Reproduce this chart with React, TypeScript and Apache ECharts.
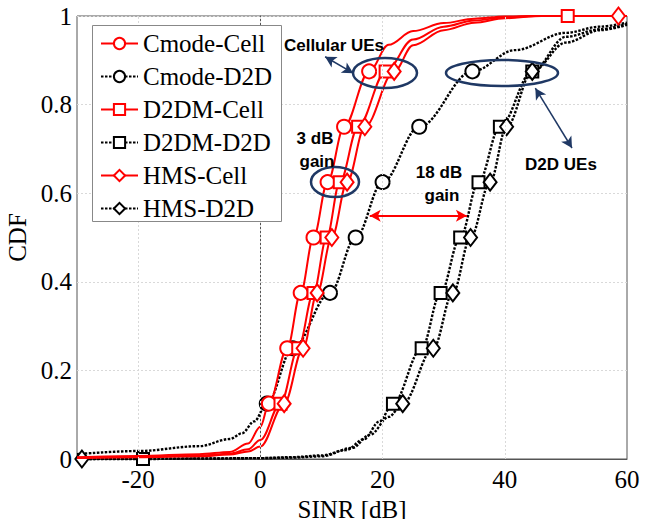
import React, { useEffect, useRef } from "react";
import * as echarts from "echarts";

// ---- data (SINR in dB, CDF) ----
const cmodeCellCurve: [number, number][] = [
  [-30, 0.004], [-20, 0.007], [-10, 0.011], [-5, 0.016], [-2, 0.035], [0, 0.073],
  [1.4, 0.125], [4.4, 0.25], [6.6, 0.375], [8.7, 0.5], [11.0, 0.625], [13.7, 0.75],
  [17.8, 0.875], [21, 0.935], [25, 0.966], [30, 0.984], [35, 0.994], [40, 0.999], [45, 1.0], [60, 1.0],
];
const cmodeCellMarks: [number, number][] = [
  [1.4, 0.125], [4.4, 0.25], [6.6, 0.375], [8.7, 0.5], [11.0, 0.625], [13.7, 0.75], [17.8, 0.875],
];

const cmodeD2DCurve: [number, number][] = [
  [-30, 0.011], [-20, 0.018], [-10, 0.029], [-5, 0.045], [-3, 0.058], [-1, 0.085],
  [1.05, 0.125], [5.3, 0.25], [11.4, 0.375], [15.6, 0.5], [20.0, 0.625], [26.0, 0.75],
  [34.7, 0.875], [41.7, 0.923], [50, 0.962], [55.6, 0.976], [60, 0.985],
];
const cmodeD2DMarks: [number, number][] = [
  [1.05, 0.125], [5.3, 0.25], [11.4, 0.375], [15.6, 0.5], [20.0, 0.625], [26.0, 0.75], [34.7, 0.875],
];

const d2dmCellCurve: [number, number][] = [
  [-30, 0.003], [-20, 0.005], [-10, 0.008], [-5, 0.012], [-2, 0.022], [0, 0.043],
  [3.3, 0.125], [6.2, 0.25], [8.7, 0.375], [10.85, 0.5], [13.0, 0.625], [16.0, 0.75],
  [20.5, 0.875], [25, 0.947], [30, 0.976], [35, 0.99], [40, 0.997], [45, 1.0], [50.3, 1.0], [60, 1.0],
];
const d2dmCellMarks: [number, number][] = [
  [3.3, 0.125], [6.2, 0.25], [8.7, 0.375], [10.85, 0.5], [13.0, 0.625], [16.0, 0.75], [20.5, 0.875], [50.3, 1.0],
];

const d2dmD2DCurve: [number, number][] = [
  [-30, 0.0], [-19.2, 0.0], [-10, 0.001], [0, 0.002], [5, 0.004], [10, 0.008], [14, 0.02],
  [17, 0.045], [19.5, 0.085], [21.7, 0.125], [26.4, 0.25], [29.5, 0.375], [32.7, 0.5],
  [35.7, 0.625], [39.2, 0.75], [44.5, 0.875], [50, 0.94], [55.6, 0.968], [60, 0.98],
];
const d2dmD2DMarks: [number, number][] = [
  [-19.2, 0.0], [21.7, 0.125], [26.4, 0.25], [29.5, 0.375], [32.7, 0.5], [35.7, 0.625], [39.2, 0.75], [44.5, 0.875],
];

const hmsCellCurve: [number, number][] = [
  [-30, 0.002], [-20, 0.004], [-10, 0.006], [-5, 0.01], [-2, 0.017], [0, 0.028],
  [3.9, 0.125], [7.0, 0.25], [9.3, 0.375], [11.7, 0.5], [14.2, 0.625], [17.1, 0.75],
  [21.9, 0.875], [25, 0.934], [30, 0.968], [35, 0.985], [40, 0.995], [46, 1.0], [58.6, 1.0], [60, 1.0],
];
const hmsCellMarks: [number, number][] = [
  [3.9, 0.125], [7.0, 0.25], [9.3, 0.375], [11.7, 0.5], [14.2, 0.625], [17.1, 0.75], [21.9, 0.875], [58.6, 1.0],
];

const hmsD2DCurve: [number, number][] = [
  [-29.2, 0.0], [-10, 0.001], [0, 0.002], [5, 0.003], [10, 0.006], [15, 0.025],
  [18, 0.055], [21, 0.095], [23.3, 0.125], [28.3, 0.25], [31.5, 0.375], [34.4, 0.5],
  [37.6, 0.625], [40.3, 0.75], [44.5, 0.875], [50, 0.953], [55.6, 0.97], [60, 0.982],
];
const hmsD2DMarks: [number, number][] = [
  [-29.2, 0.0], [23.3, 0.125], [28.3, 0.25], [31.5, 0.375], [34.4, 0.5], [37.6, 0.625], [40.3, 0.75], [44.5, 0.875],
];

const xLabelTicks = [-20, 0, 20, 40, 60];
const xGridLines = [-20, 0, 20, 40];

const seriesNames = ["Cmode-Cell", "Cmode-D2D", "D2DM-Cell", "D2DM-D2D", "HMS-Cell", "HMS-D2D"];

// annotation arrows in data coordinates
const cellArrow: [number, number][] = [[10.6, 0.908], [15.2, 0.871]];
const d2dArrow: [number, number][] = [[45.0, 0.837], [51.0, 0.702]];
const gainArrow: [number, number][] = [[17.9, 0.549], [33.8, 0.549]];

function merge(curve: [number, number][], marks: [number, number][]) {
  const key = (p: [number, number]) => p[0] + "_" + p[1];
  const markSet = new Set(marks.map(key));
  return curve.map((p) =>
    markSet.has(key(p)) ? { value: p } : { value: p, symbol: "none" }
  );
}

const RED = "#ff0000";
const BLACK = "#000000";
const NAVY = "#1f3864";
const SERIF = "Liberation Serif";

export default function App() {
  const ref = useRef<HTMLDivElement>(null);
  useEffect(() => {
    if (!ref.current) return;
    const chart = echarts.init(ref.current, undefined, { renderer: "svg" });

    const mk = (
      name: string,
      curve: [number, number][],
      marks: [number, number][],
      color: string,
      symbol: string,
      size: number | number[],
      dotted: boolean
    ) => ({
      name,
      type: "line",
      data: merge(curve, marks),
      smooth: 0.35,
      smoothMonotone: "x",
      symbol,
      symbolSize: size,
      showSymbol: true,
      showAllSymbol: true,
      clip: false,
      itemStyle: { color: "#fff", borderColor: color, borderWidth: 2 },
      lineStyle: { color, width: dotted ? 2.4 : 2, type: dotted ? [2.5, 1.5] : "solid" },
      z: dotted ? 2 : 3,
    });

    const annText = (x: number, y: number, text: string) => ({
      type: "text", x, y, z: 10,
      style: {
        text, fontFamily: "Liberation Sans", fontSize: 17, fontWeight: "bold",
        fill: "#000", align: "center", verticalAlign: "middle",
      },
    });

    const option: any = {
      animation: false,
      textStyle: { fontFamily: SERIF },
      grid: {
        left: 77, right: 26, top: 16, bottom: 60,
        outerBoundsMode: "none",
        containLabel: false,
        show: true, borderColor: "#555", borderWidth: 1, backgroundColor: "transparent",
      },
      xAxis: {
        type: "value",
        min: -30, max: 60, interval: 10,
        name: "SINR [dB]",
        nameLocation: "middle",
        nameGap: 29,
        nameTextStyle: { fontSize: 25, color: "#000", fontFamily: SERIF },
        axisLine: { show: true, onZero: false, lineStyle: { color: "#555" } },
        axisTick: { show: false },
        splitLine: { show: false },
        axisLabel: {
          fontSize: 25, color: "#000", fontFamily: SERIF, margin: 8,
          formatter: (v: number) => (xLabelTicks.includes(v) ? String(v) : ""),
        },
      },
      yAxis: {
        type: "value",
        min: 0, max: 1, interval: 0.2,
        name: "CDF",
        nameLocation: "middle",
        nameGap: 34,
        nameTextStyle: { fontSize: 25, color: "#000", fontFamily: SERIF },
        axisLine: { show: true, lineStyle: { color: "#555" } },
        axisTick: { show: false },
        splitLine: { show: true, lineStyle: { color: "#d9d9d9", type: [2, 2], width: 1 } },
        axisLabel: {
          fontSize: 25, color: "#000", fontFamily: SERIF, margin: 5,
          formatter: (v: number) => (v === 0 ? "0" : v === 1 ? "1" : v.toFixed(1)),
        },
      },
      legend: {
        orient: "vertical",
        left: 92, top: 25,
        z: 8,
        data: seriesNames,
        padding: [6, 10, 5, 8],
        itemWidth: 37,
        itemHeight: 14,
        itemGap: 8,
        textStyle: { fontSize: 25, color: "#000", fontFamily: SERIF, lineHeight: 25 },
      },
      series: [
        {
          name: "_grid",
          type: "line",
          data: [],
          silent: true,
          markLine: {
            silent: true,
            symbol: "none",
            label: { show: false },
            lineStyle: { color: "#d9d9d9", type: [2, 2], width: 1 },
            data: xGridLines.map((v) => ({ xAxis: v })),
          },
          z: 1,
        },
        mk("Cmode-Cell", cmodeCellCurve, cmodeCellMarks, RED, "circle", 14, false),
        mk("Cmode-D2D", cmodeD2DCurve, cmodeD2DMarks, BLACK, "circle", 14, true),
        mk("D2DM-Cell", d2dmCellCurve, d2dmCellMarks, RED, "rect", 12, false),
        mk("D2DM-D2D", d2dmD2DCurve, d2dmD2DMarks, BLACK, "rect", 12, true),
        mk("HMS-Cell", hmsCellCurve, hmsCellMarks, RED, "diamond", [13, 17], false),
        mk("HMS-D2D", hmsD2DCurve, hmsD2DMarks, BLACK, "diamond", [13, 17], true),
        {
          name: "_arrows",
          type: "line",
          data: [],
          silent: true,
          markLine: {
            silent: true,
            symbol: ["arrow", "arrow"],
            symbolSize: [9, 11],
            label: { show: false },
            data: [
              [
                { coord: cellArrow[0], lineStyle: { color: NAVY, width: 1.5, type: "solid" }, itemStyle: { color: NAVY } },
                { coord: cellArrow[1] },
              ],
              [
                { coord: d2dArrow[0], lineStyle: { color: NAVY, width: 1.5, type: "solid" }, itemStyle: { color: NAVY } },
                { coord: d2dArrow[1] },
              ],
              [
                { coord: gainArrow[0], lineStyle: { color: RED, width: 2, type: "solid" }, itemStyle: { color: RED } },
                { coord: gainArrow[1] },
              ],
            ],
          },
          z: 6,
        },
      ],
      graphic: [
        {
          type: "rect", z: 7,
          shape: { x: 92.5, y: 25.5, width: 189, height: 196 },
          style: { fill: "#fff", stroke: "#888", lineWidth: 1 },
        },
        { type: "ellipse", shape: { cx: 385, cy: 73, rx: 32, ry: 15 }, style: { fill: "none", stroke: NAVY, lineWidth: 2.5 }, z: 10 },
        { type: "ellipse", shape: { cx: 502, cy: 73, rx: 56, ry: 13 }, style: { fill: "none", stroke: NAVY, lineWidth: 2.5 }, z: 10 },
        { type: "ellipse", shape: { cx: 335, cy: 182, rx: 24, ry: 15 }, style: { fill: "none", stroke: NAVY, lineWidth: 2.5 }, z: 10 },
        annText(334, 45, "Cellular UEs"),
        annText(315, 138, "3 dB"),
        annText(317, 161, "gain"),
        annText(439, 172, "18 dB"),
        annText(442, 195, "gain"),
        annText(561, 164, "D2D UEs"),
      ],
    };
    chart.setOption(option);
    return () => chart.dispose();
  }, []);
  return <div ref={ref} style={{ width: 653, height: 519, position: "absolute", left: 0, top: 0 }} />;
}
